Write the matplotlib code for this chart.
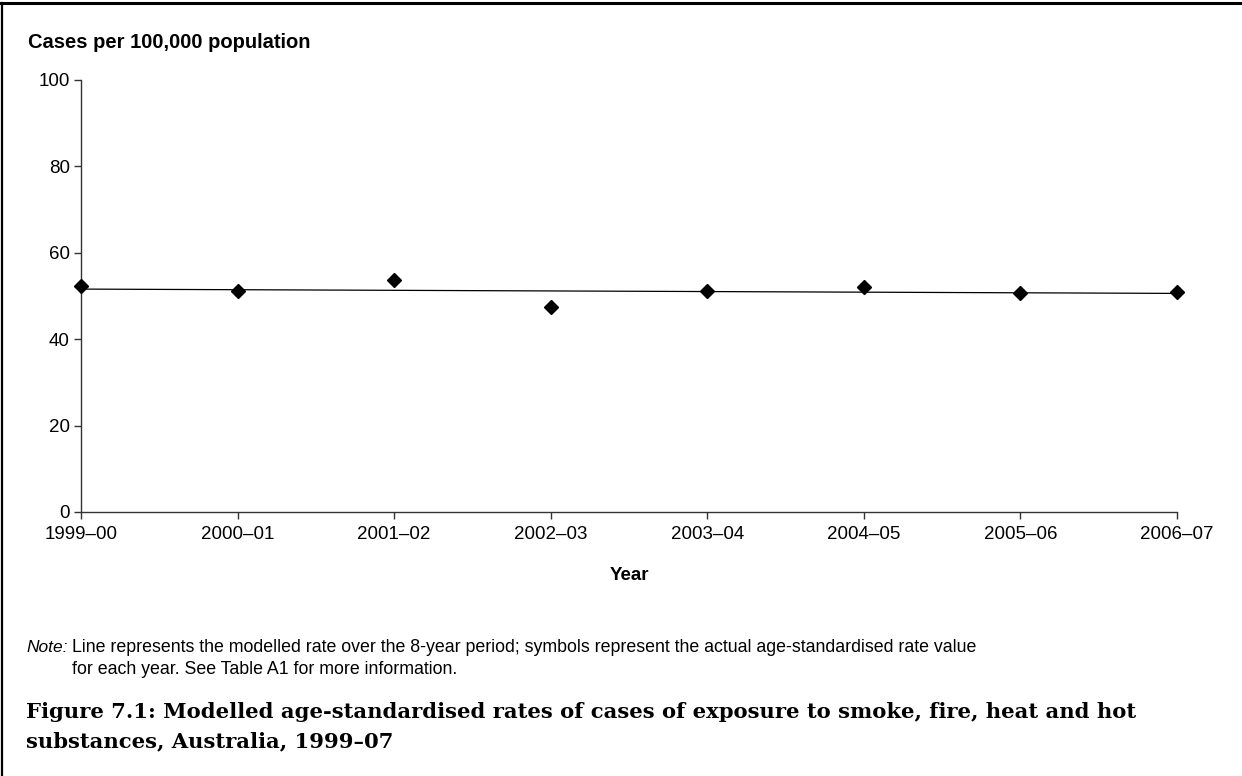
import numpy as np
import matplotlib.pyplot as plt
from matplotlib.lines import Line2D

# Data
years = ['1999–00', '2000–01', '2001–02', '2002–03', '2003–04', '2004–05', '2005–06', '2006–07']
actual_rate = [52.4, 51.1, 53.6, 47.4, 51.1, 52.1, 50.7, 51.0]
modelled_start = 51.6
modelled_end = 50.6

W, H = 1242, 776
fig = plt.figure(figsize=(W / 100, H / 100), dpi=100)
fig.patch.set_facecolor('white')

sans = ['Liberation Sans', 'DejaVu Sans']
serif = ['DejaVu Serif']

# axes placed in pixel terms
left, right, bottom, top = 81, 1177, 512, 80
ax = fig.add_axes([left / W, 1 - bottom / H, (right - left) / W, (bottom - top) / H])

x = np.arange(len(years))
ax.plot([x[0], x[-1]], [modelled_start, modelled_end], color='black', lw=0.9, zorder=2)
ax.plot(x, actual_rate, linestyle='none', marker='D', markersize=7.5, color='black', zorder=3)

ax.set_xlim(x[0], x[-1])
ax.set_ylim(0, 100)
ax.set_yticks(range(0, 101, 20))
ax.set_xticks(x)
ax.set_xticklabels(years)
for sp in ['top', 'right']:
    ax.spines[sp].set_visible(False)
for sp in ['left', 'bottom']:
    ax.spines[sp].set_color('#333333')
    ax.spines[sp].set_linewidth(1.0)
ax.tick_params(axis='both', direction='out', length=5, width=1.0, color='#333333',
               labelsize=13.5)
ax.tick_params(axis='y', pad=3)
ax.tick_params(axis='x', pad=5)
for lab in ax.get_xticklabels() + ax.get_yticklabels():
    lab.set_family(sans)
ax.patch.set_alpha(0)
for ln in ax.lines:
    ln.set_clip_on(False)


def px(xp, yp):
    return xp / W, 1 - yp / H


fig.text(*px(28, 42), 'Cases per 100,000 population', family=sans, weight='bold',
         fontsize=14.5, ha='left', va='center')
fig.text(*px(629, 576), 'Year', family=sans, weight='bold', fontsize=13.5,
         ha='center', va='center')

fig.text(*px(26, 648), 'Note:', family=sans, style='italic', fontsize=12.5,
         ha='left', va='center')
fig.text(*px(72, 648), 'Line represents the modelled rate over the 8-year period; symbols represent '
         'the actual age-standardised rate value', family=sans, fontsize=12.8,
         ha='left', va='center')
fig.text(*px(72, 670), 'for each year. See Table A1 for more information.', family=sans,
         fontsize=12.8, ha='left', va='center')

fig.text(*px(26, 712), 'Figure 7.1: Modelled age-standardised rates of cases of exposure to smoke, '
         'fire, heat and hot', family=serif, weight='bold', fontsize=15.2, ha='left', va='center')
fig.text(*px(26, 741), 'substances, Australia, 1999–07', family=serif, weight='bold',
         fontsize=15.2, ha='left', va='center')

# frame lines at top and left
fig.add_artist(Line2D([0, 1], [1 - 3 / H, 1 - 3 / H], color='black', lw=2.2,
                      transform=fig.transFigure))
fig.add_artist(Line2D([2 / W, 2 / W], [0, 1 - 3 / H], color='black', lw=1.6,
                      transform=fig.transFigure))

fig.savefig('out.png', dpi=100)
